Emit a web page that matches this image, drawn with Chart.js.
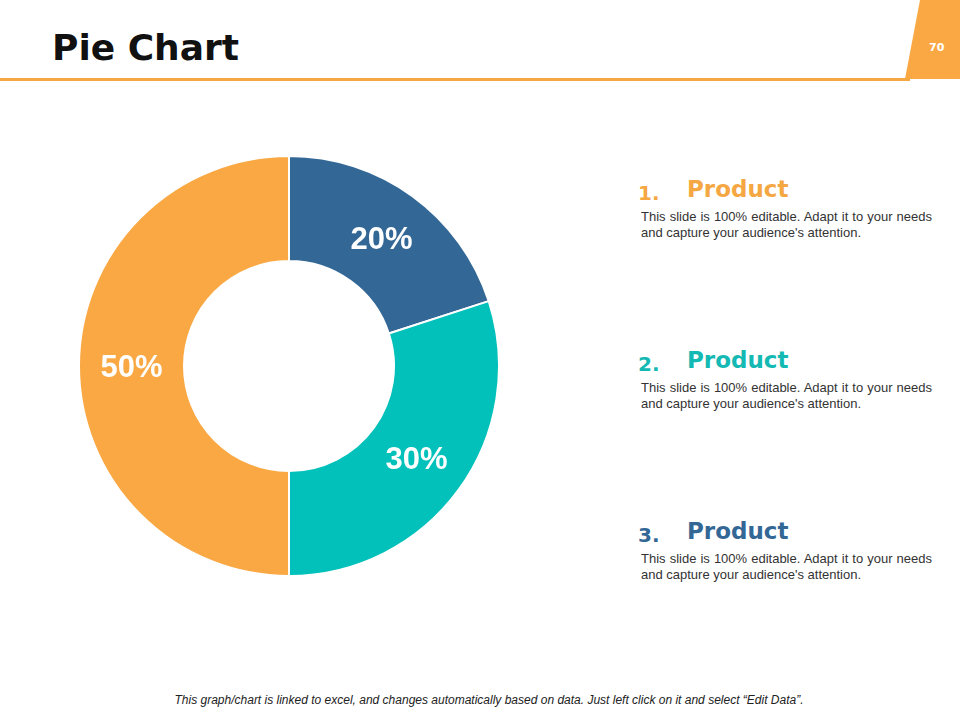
<!DOCTYPE html>
<html>
<head>
<meta charset="utf-8">
<script src="https://cdn.jsdelivr.net/npm/chart.js@4/dist/chart.umd.min.js"></script>
<style>
  html, body { margin: 0; padding: 0; background: #fff; }
  body { width: 960px; height: 720px; position: relative; overflow: hidden; font-family: "Liberation Sans", Arial, sans-serif; }
  .title { position: absolute; left: 52px; top: 27px; font: bold 36px "DejaVu Sans", Verdana, sans-serif; color: #111; }
  .rule { position: absolute; left: 0; top: 78px; width: 910px; height: 3px; background: #F4A742; }
  .tab { position: absolute; left: 905px; top: 0; width: 55px; height: 79px; background: #F9A843;
         clip-path: polygon(15px 0, 55px 0, 55px 79px, 0 79px); }
  .pg { position: absolute; left: 929px; top: 41px; font: bold 11px "DejaVu Sans", Verdana, sans-serif; color: #fff; }
  #wrap { position: absolute; left: 78px; top: 155px; width: 422px; height: 422px; }
  .item { position: absolute; left: 638px; width: 300px; }
  .item .num { position: absolute; left: 0; top: 4px; font: bold 20px "DejaVu Sans", Verdana, sans-serif; }
  .item .head { position: absolute; left: 49px; top: -1px; font: bold 23px "DejaVu Sans", Verdana, sans-serif; }
  .item .txt { position: absolute; left: 3px; top: 32px; width: 291px; font-size: 13px; line-height: 16px; color: #333; }
  .item .l1 { display: block; white-space: nowrap; text-align: justify; text-align-last: justify; }
  .foot { position: absolute; left: 9px; width: 960px; top: 693px; text-align: center; font: italic 12px "Liberation Sans", Arial, sans-serif; color: #222; }
</style>
</head>
<body>
<div class="title">Pie Chart</div>
<div class="rule"></div>
<div class="tab"></div>
<div class="pg">70</div>
<div id="wrap"><canvas id="chart"></canvas></div>
<div id="items"></div>
<div class="foot">This graph/chart is linked to excel, and changes automatically based on data. Just left click on it and select “Edit Data”.</div>
<script>
// --- DATA ---
const labels = ['Product 1', 'Product 2', 'Product 3'];
const values = [20, 30, 50];
const colors = ['#336896', '#02C1BA', '#F9A843'];

const itemNames = ['Product', 'Product', 'Product'];
const itemColors = ['#F4A742', '#14B9B3', '#336896'];
const itemLine1 = 'This slide is 100% editable. Adapt it to your needs';
const itemLine2 = "and capture your audience's attention.";

// --- SIDE TEXT ---
const itemsEl = document.getElementById('items');
itemNames.forEach((n, i) => {
  itemsEl.innerHTML += `
    <div class="item" style="top:${177 + i * 171}px">
      <div class="num" style="color:${itemColors[i]}">${i + 1}.</div>
      <div class="head" style="color:${itemColors[i]}">${n}</div>
      <div class="txt"><span class="l1">${itemLine1}</span>${itemLine2}</div>
    </div>`;
});

// --- CHART ---
const sliceLabels = {
  id: 'sliceLabels',
  afterDatasetsDraw(chart) {
    const c = chart.ctx;
    const meta = chart.getDatasetMeta(0);
    c.save();
    c.fillStyle = '#fff';
    c.font = 'bold 31px "Liberation Sans", Arial, sans-serif';
    c.textAlign = 'center';
    c.textBaseline = 'middle';
    meta.data.forEach((arc, i) => {
      const p = arc.tooltipPosition();
      c.fillText(values[i] + '%', p.x, p.y + 2);
    });
    c.restore();
  }
};

new Chart(document.getElementById('chart').getContext('2d'), {
  type: 'doughnut',
  data: {
    labels: labels,
    datasets: [{
      data: values,
      backgroundColor: colors,
      borderColor: '#fff',
      borderWidth: 2,
    }]
  },
  options: {
    responsive: true,
    maintainAspectRatio: false,
    animation: false,
    cutout: '50%',
    layout: { padding: 0 },
    plugins: { legend: { display: false }, tooltip: { enabled: false } }
  },
  plugins: [sliceLabels]
});
</script>
</body>
</html>
